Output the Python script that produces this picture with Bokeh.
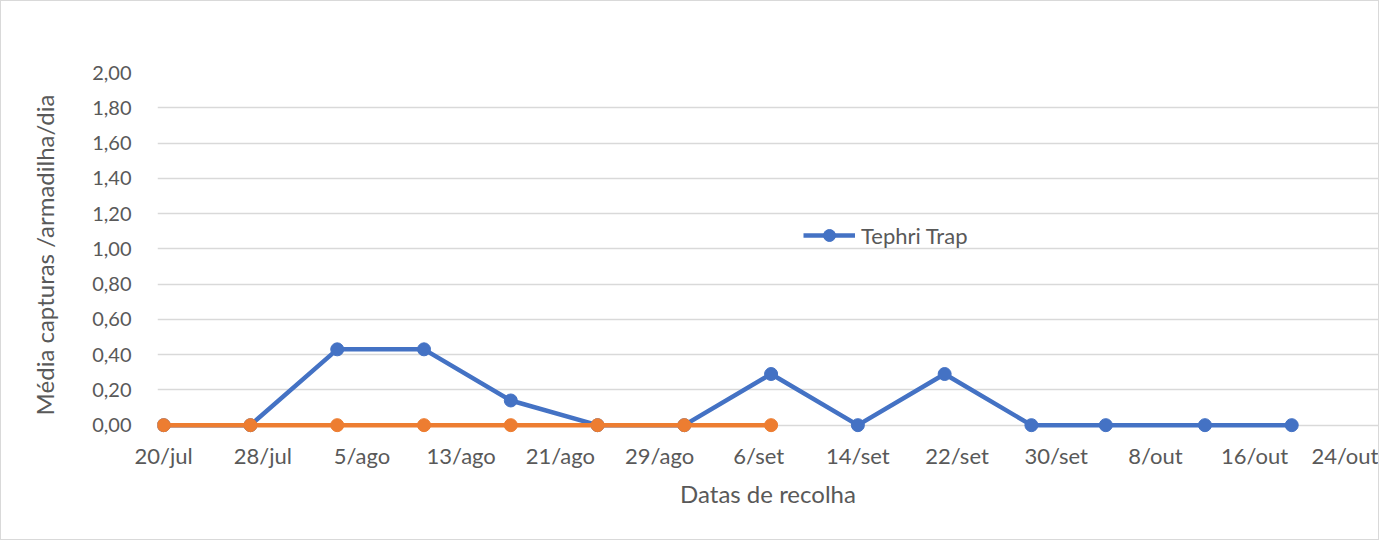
import pandas as pd
from bokeh.plotting import figure
from bokeh.models import Range1d, FixedTicker, Legend, LegendItem
from bokeh.embed import file_html
from bokeh.resources import INLINE

# ---- data ----
dates_tephri = ["2020-07-20", "2020-07-27", "2020-08-03", "2020-08-10", "2020-08-17",
                "2020-08-24", "2020-08-31", "2020-09-07", "2020-09-14", "2020-09-21",
                "2020-09-28", "2020-10-04", "2020-10-12", "2020-10-19"]
tephri_trap = [0.00, 0.00, 0.43, 0.43, 0.14, 0.00, 0.00, 0.29, 0.00, 0.29, 0.00, 0.00, 0.00, 0.00]

dates_other = ["2020-07-20", "2020-07-27", "2020-08-03", "2020-08-10", "2020-08-17",
               "2020-08-24", "2020-08-31", "2020-09-07"]
other_trap = [0.00, 0.00, 0.00, 0.00, 0.00, 0.00, 0.00, 0.00]

x_tick_dates = ["2020-07-20", "2020-07-28", "2020-08-05", "2020-08-13", "2020-08-21",
                "2020-08-29", "2020-09-06", "2020-09-14", "2020-09-22", "2020-09-30",
                "2020-10-08", "2020-10-16", "2020-10-24"]
x_tick_labels = ["20/jul", "28/jul", "5/ago", "13/ago", "21/ago", "29/ago", "6/set",
                 "14/set", "22/set", "30/set", "8/out", "16/out", "24/out"]

y_ticks = [0.0, 0.2, 0.4, 0.6, 0.8, 1.0, 1.2, 1.4, 1.6, 1.8, 2.0]
y_tick_labels = ["0,00", "0,20", "0,40", "0,60", "0,80", "1,00", "1,20", "1,40", "1,60", "1,80", "2,00"]

BLUE = "#4472C4"
ORANGE = "#ED7D31"
GRID = "#D9D9D9"
TEXT = "#595959"
FONT = "Lato"

xt = pd.to_datetime(dates_tephri)
xo = pd.to_datetime(dates_other)
tick_ms = [pd.Timestamp(d).value // 10**6 for d in x_tick_dates]

x_start = pd.Timestamp("2020-07-19 12:00")
x_end = pd.Timestamp("2020-10-26 00:00")

p = figure(width=1379, height=540, x_axis_type="datetime",
           x_range=Range1d(x_start, x_end), y_range=Range1d(-0.07, 2.0),
           output_backend="svg", toolbar_location=None,
           min_border_left=156, min_border_right=2, min_border_top=71, min_border_bottom=104)
p.styles = {"border": "1px solid #D9D9D9"}
p.outline_line_color = None
p.background_fill_color = "white"
p.border_fill_color = "white"

# axes
p.xaxis.ticker = FixedTicker(ticks=tick_ms)
p.xaxis.major_label_overrides = {t: l for t, l in zip(tick_ms, x_tick_labels)}
p.yaxis.ticker = FixedTicker(ticks=y_ticks)
p.yaxis.major_label_overrides = {t: l for t, l in zip(y_ticks, y_tick_labels)}

for ax in (p.xaxis[0], p.yaxis[0]):
    ax.axis_line_color = None
    ax.major_tick_line_color = None
    ax.minor_tick_line_color = None
    ax.major_tick_out = 0
    ax.major_tick_in = 0
    ax.minor_tick_out = 0
    ax.minor_tick_in = 0
    ax.major_label_text_color = TEXT
    ax.major_label_text_font = FONT
    ax.axis_label_text_color = TEXT
    ax.axis_label_text_font = FONT
    ax.axis_label_text_font_size = "24px"
    ax.axis_label_text_font_style = "normal"

p.xaxis.major_label_text_font_size = "22px"
p.yaxis.major_label_text_font_size = "20px"
p.xaxis.axis_label = "Datas de recolha"
p.yaxis.axis_label = "Média capturas /armadilha/dia"
p.xaxis.major_label_standoff = 4
p.xaxis.axis_label_standoff = 7
p.yaxis.major_label_standoff = 26
p.yaxis.axis_label_standoff = 30

p.xgrid.grid_line_color = None
p.ygrid.grid_line_color = GRID
p.ygrid.grid_line_width = 1.5
p.ygrid.ticker = FixedTicker(ticks=y_ticks)

# series
bl = p.line(xt, tephri_trap, line_color=BLUE, line_width=4.5)
bs = p.scatter(xt, tephri_trap, size=13, fill_color=BLUE, line_color=BLUE)
ol = p.line(xo, other_trap, line_color=ORANGE, line_width=4.5)
os_ = p.scatter(xo, other_trap, size=13, fill_color=ORANGE, line_color=ORANGE)

legend = Legend(items=[LegendItem(label="Tephri Trap", renderers=[bl, bs])],
                location=(646, 187), padding=0, margin=0, spacing=0,
                glyph_width=52, glyph_height=30, label_standoff=6,
                label_text_font=FONT, label_text_font_size="22px", label_text_color=TEXT,
                border_line_color=None, background_fill_alpha=0)
p.add_layout(legend)

open("out.html", "w").write(file_html(p, INLINE))
